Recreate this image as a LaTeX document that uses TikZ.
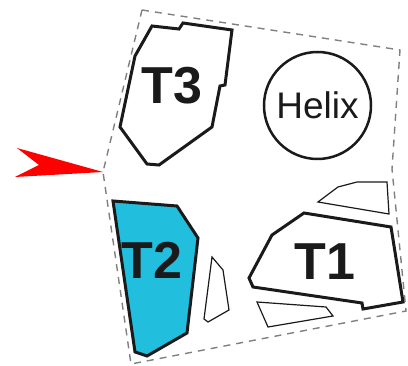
\documentclass[tikz,border=0pt]{standalone}
\usepackage{fontspec}
\setmainfont{Liberation Sans}
\usepackage{tikz}

\begin{document}
\begin{tikzpicture}[x=1pt,y=-1pt,line join=miter,
	border/.style={line width=1.4pt, custcol_80_80_80, dash pattern=on 7pt off 6pt},
	tpoly/.style={line width=3.0pt, custcol_1a_1a_1a},
	shard/.style={line width=1.2pt, custcol_1a_1a_1a},
	tlabel/.style={inner sep=0, outer sep=0, custcol_1a_1a_1a, font=\fontsize{52pt}{52pt}\bfseries\selectfont}]
					\definecolor{custcol_80_80_80}{RGB}{128, 128, 128}
					\definecolor{custcol_1a_1a_1a}{RGB}{26, 26, 26}
					\definecolor{custcol_22_be_de}{RGB}{34, 190, 222}
					\definecolor{custcol_ff_0_0}{RGB}{255, 0, 0}
					\useasboundingbox (0.0,0.0) rectangle (408.0,366.0);
					% outer boundary
					\draw [border]  (142.0,10.0) -- (400.0,50.0) -- (392.0,169.0) -- (406.0,311.0) -- (131.0,364.0) -- (103.0,172.0) -- cycle;
					\fill [custcol_ff_0_0]  (103.0,172.0) -- (17.0,148.0) -- (39.0,165.0) -- (15.0,177.0) -- cycle;
					% T3
					\draw [tpoly]  (152.0,26.0) -- (179.0,29.0) -- (183.0,23.0) -- (232.0,30.0) -- (225.0,85.0) -- (220.0,86.0) -- (212.0,127.0) -- (159.0,165.0) -- (147.0,164.0) -- (120.0,127.0) -- (135.0,56.0) -- cycle;
					\node [tlabel] (lblT3) at (172.0,86.0) {T3};
					% Helix
					\node [circle, draw, line width=2.5pt, custcol_1a_1a_1a, minimum size=107pt, inner sep=0, font=\fontsize{37pt}{37pt}\selectfont] (helix) at (317.5,105.5) {Helix};
					% T2
					\draw [tpoly, fill=custcol_22_be_de]  (113.0,201.0) -- (177.0,206.0) -- (198.0,238.0) -- (187.0,333.0) -- (147.0,356.0) -- (135.0,352.0) -- cycle;
					\node [tlabel] (lblT2) at (152.0,260.0) {T2};
					% T1
					\draw [tpoly]  (304.0,213.0) -- (391.0,227.0) -- (403.0,302.0) -- (363.0,309.0) -- (362.0,303.0) -- (253.0,287.0) -- (249.0,278.0) -- (272.0,235.0) -- cycle;
					\node [tlabel] (lblT1) at (325.0,262.0) {T1};
					% shards
					\draw [shard]  (318.0,202.0) -- (338.0,187.0) -- (357.0,182.0) -- (387.0,182.0) -- (389.0,214.0) -- cycle;
					\draw [shard]  (257.0,302.0) -- (326.0,307.0) -- (333.0,316.0) -- (268.0,327.0) -- cycle;
					\draw [shard]  (212.0,257.0) -- (223.0,270.0) -- (229.0,310.0) -- (208.0,322.0) -- (204.0,319.0) -- cycle;
				\end{tikzpicture}
\end{document}
